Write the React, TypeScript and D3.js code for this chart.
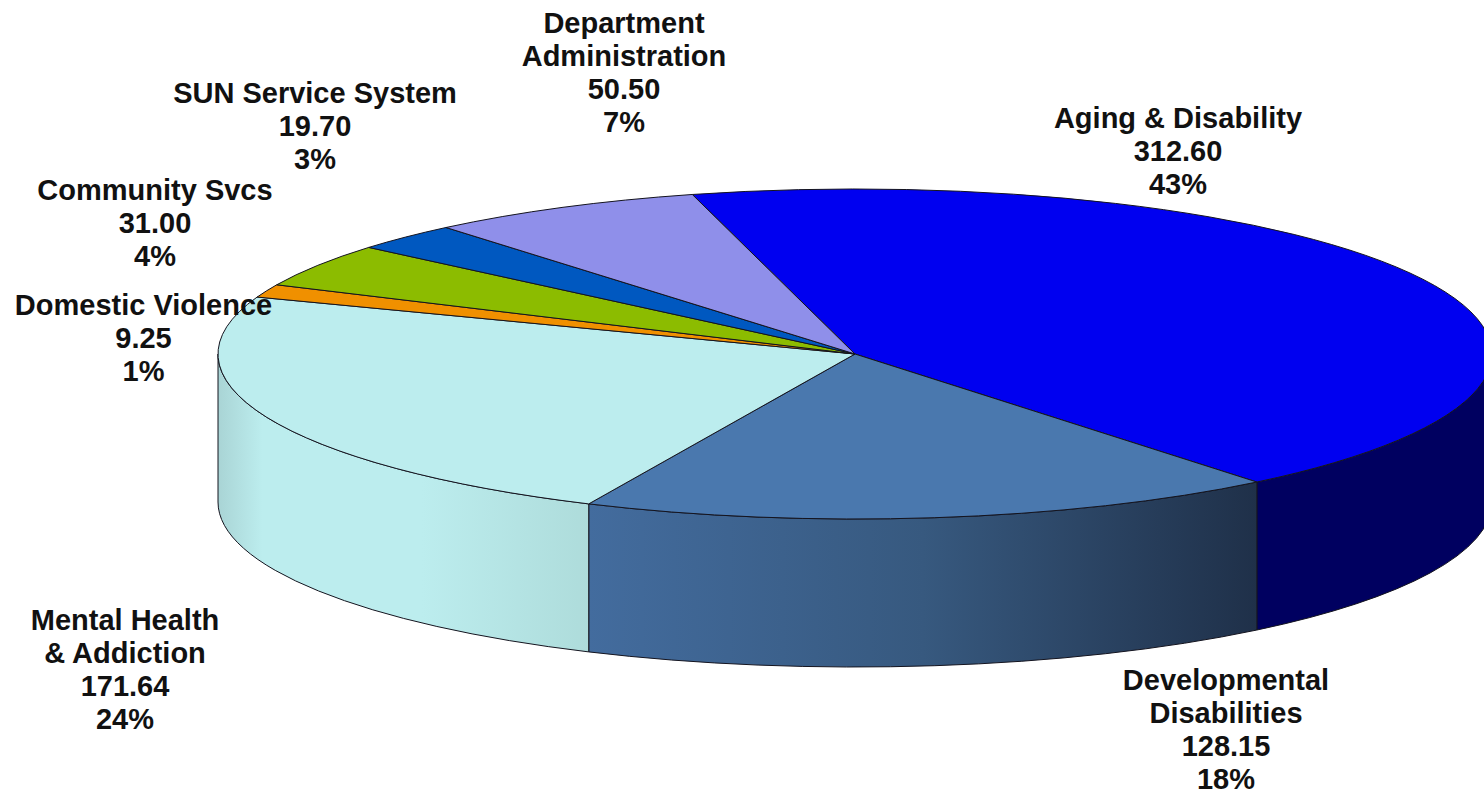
import React from "react";
import * as d3 from "d3";

const categories = ["Aging & Disability", "Developmental Disabilities", "Mental Health & Addiction", "Domestic Violence", "Community Svcs", "SUN Service System", "Department Administration"];
const values = [312.6, 128.15, 171.64, 9.25, 31.0, 19.7, 50.5];
const colors = ["#0000f0", "#4a78ae", "#bcedee", "#f09000", "#8cbc00", "#0058c0", "#8f8fea"];
const labelLines = [
  ["Aging & Disability", "312.60", "43%"],
  ["Developmental", "Disabilities", "128.15", "18%"],
  ["Mental Health", "& Addiction", "171.64", "24%"],
  ["Domestic Violence", "9.25", "1%"],
  ["Community Svcs", "31.00", "4%"],
  ["SUN Service System", "19.70", "3%"],
  ["Department", "Administration", "50.50", "7%"],
];
const labelCentres = [[1178, 118], [1226, 680], [125, 620], [143.5, 305], [155, 190], [315, 93], [624, 23]];

const cx = 855, cy = 354, rx = 637, ry = 165, depth = 148;
const startDeg = -14.8;

const px = (t: number) => cx + rx * Math.sin(t);
const py = (t: number) => cy - ry * Math.cos(t);

export default function App() {
  const pie = d3.pie<number>().sort(null).startAngle((startDeg * Math.PI) / 180).endAngle(((startDeg + 360) * Math.PI) / 180);
  const arcs = pie(values);
  const walls = arcs
    .map((a, i) => {
      const lo = Math.max(a.startAngle, Math.PI / 2);
      const hi = Math.min(a.endAngle, (3 * Math.PI) / 2);
      if (lo >= hi) return null;
      return {
        i,
        d: `M${px(lo)},${py(lo)}A${rx},${ry} 0 0 1 ${px(hi)},${py(hi)}L${px(hi)},${py(hi) + depth}A${rx},${ry} 0 0 0 ${px(lo)},${py(lo) + depth}Z`,
      };
    })
    .filter(Boolean) as { i: number; d: string }[];

  const stroke = "#14141f";
  return (
    <svg width={1484} height={794} style={{ position: "absolute", left: 0, top: 0, background: "#fff" }}>
      <defs>
        <linearGradient id="w1" gradientUnits="userSpaceOnUse" x1={1258} x2={588} y1={0} y2={0}>
          <stop offset="0" stopColor="#1f3049" />
          <stop offset="0.5" stopColor="#37597f" />
          <stop offset="1" stopColor="#436c9e" />
        </linearGradient>
        <linearGradient id="w2" gradientUnits="userSpaceOnUse" x1={588} x2={218} y1={0} y2={0}>
          <stop offset="0" stopColor="#aedcdb" />
          <stop offset="0.45" stopColor="#bcedee" />
          <stop offset="0.88" stopColor="#bcedee" />
          <stop offset="1" stopColor="#a9d4d5" />
        </linearGradient>
      </defs>
      {walls.map((w) => (
        <path key={w.i} d={w.d} fill={w.i === 0 ? "#000060" : `url(#w${w.i})`} stroke={stroke} strokeWidth={1} />
      ))}
      {arcs.map((a, i) => {
        const large = a.endAngle - a.startAngle > Math.PI ? 1 : 0;
        return (
          <path
            key={categories[i]}
            d={`M${cx},${cy}L${px(a.startAngle)},${py(a.startAngle)}A${rx},${ry} 0 ${large} 1 ${px(a.endAngle)},${py(a.endAngle)}Z`}
            fill={colors[i]}
            stroke={stroke}
            strokeWidth={1}
          />
        );
      })}
      {labelLines.map((lines, i) => (
        <text key={i} textAnchor="middle" fontFamily="Liberation Sans, Arial, sans-serif" fontWeight="bold" fontSize={29} fill="#111">
          {lines.map((l, j) => (
            <tspan key={j} x={labelCentres[i][0]} y={labelCentres[i][1] + 10 + j * 33}>
              {l}
            </tspan>
          ))}
        </text>
      ))}
    </svg>
  );
}
